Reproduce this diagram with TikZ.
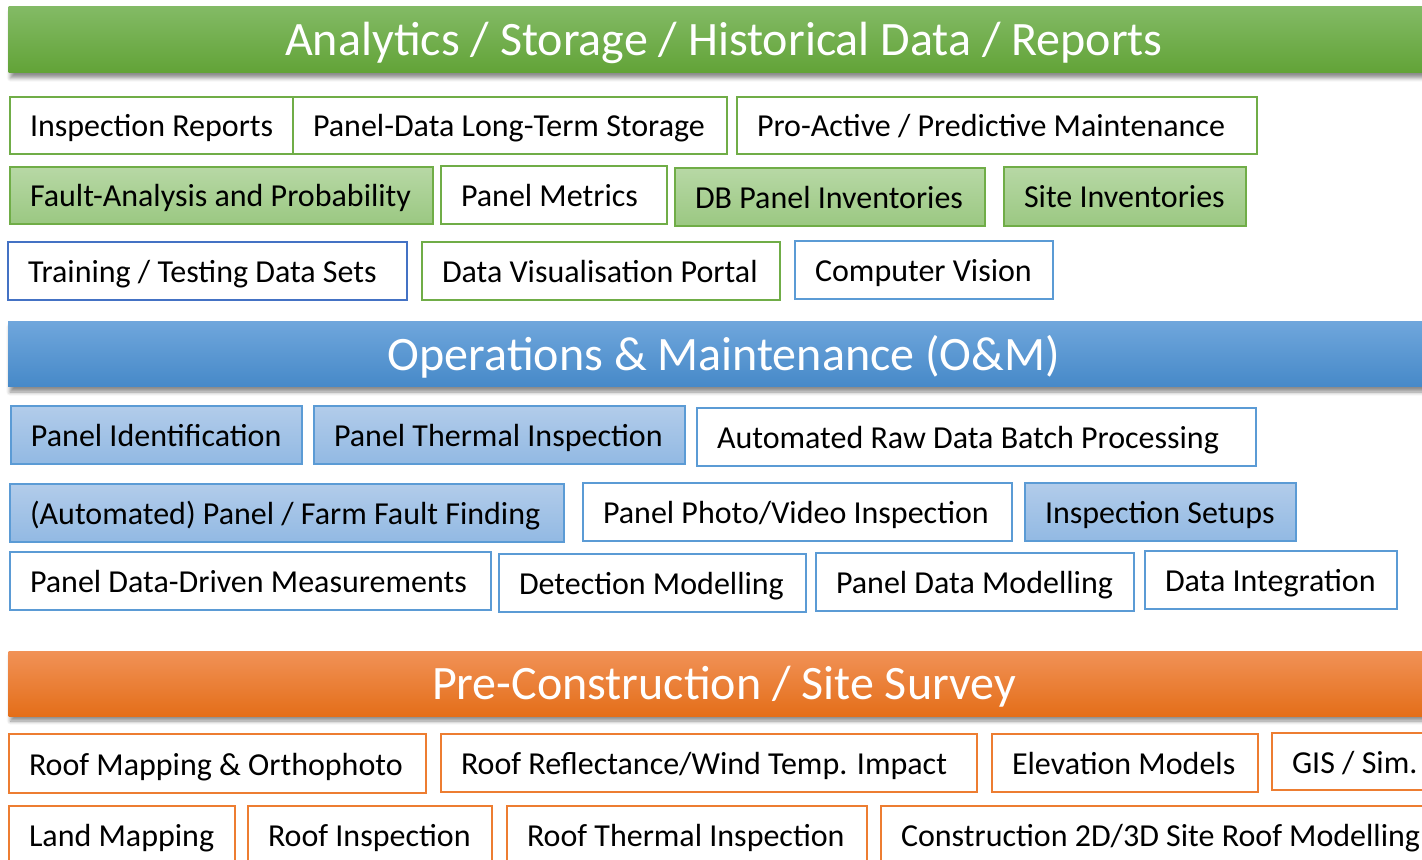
\documentclass[tikz,border=0pt]{standalone}
\usepackage{fontspec}
\setmainfont{Carlito}
\usetikzlibrary{shadows.blur}
\definecolor{gTop}{RGB}{131,186,101}
\definecolor{gMid}{RGB}{114,176,68}
\definecolor{gBot}{RGB}{98,163,55}
\definecolor{bTop}{RGB}{111,166,220}
\definecolor{bMid}{RGB}{91,155,213}
\definecolor{bBot}{RGB}{70,137,200}
\definecolor{oTop}{RGB}{241,146,87}
\definecolor{oMid}{RGB}{242,128,48}
\definecolor{oBot}{RGB}{228,110,25}
\definecolor{gfTop}{RGB}{183,216,165}
\definecolor{gfBot}{RGB}{155,200,130}
\definecolor{bfTop}{RGB}{178,204,234}
\definecolor{bfBot}{RGB}{146,185,227}
\definecolor{gLine}{RGB}{112,173,71}
\definecolor{bLine}{RGB}{91,155,213}
\definecolor{dbLine}{RGB}{68,114,196}
\definecolor{oLine}{RGB}{237,125,49}
\tikzset{
  banner/.style={rectangle, inner sep=0pt, text=white, font=\fontsize{24}{28}\selectfont,
    text height=18pt, text depth=2.4pt,
    blur shadow={shadow xshift=1pt, shadow yshift=-2.5pt, shadow blur steps=6, shadow opacity=45}},
  bxbase/.style={rectangle, line width=1pt, inner xsep=10pt, inner ysep=0pt,
    font=\fontsize{16}{19}\selectfont, text height=12.8pt, text depth=1.3pt},
  gbox/.style={bxbase, draw=gLine, fill=white},
  gfbox/.style={bxbase, draw=gLine, top color=gfTop, bottom color=gfBot},
  bbox/.style={bxbase, draw=bLine, fill=white},
  dbbox/.style={bxbase, draw=dbLine, fill=white},
  bfbox/.style={bxbase, draw=bLine, top color=bfTop, bottom color=bfBot},
  obox/.style={bxbase, draw=oLine, fill=white},
}
\newcommand\bx[7]{%
  \pgfmathsetmacro\bxw{(#5-#3)*0.5}%
  \pgfmathsetmacro\bxh{(#6-#4)*0.5}%
  \pgfmathsetmacro\bxt{(#5-#3-40)*0.5}%
  \node[#2, minimum width=\bxw pt, minimum height=\bxh pt] (#1) at ({(#3+#5)/2},{(#4+#6)/2}) {\makebox[\bxt pt][l]{#7}};}
\begin{document}
\begin{tikzpicture}[x=0.5pt, y=-0.5pt]
\useasboundingbox (0,0) rectangle (1422,860);
\clip (0,0) rectangle (1422,860);
% banners
\node[banner, minimum width=715.5pt, minimum height=33pt, top color=gTop, middle color=gMid, bottom color=gBot] (bannerA) at (724,40) {Analytics / Storage / Historical Data / Reports};
\node[banner, minimum width=716pt, minimum height=32.5pt, top color=bTop, middle color=bMid, bottom color=bBot] (bannerB) at (724,354.5) {Operations \& Maintenance (O\&M)};
\node[banner, minimum width=715.5pt, minimum height=32.5pt, top color=oTop, middle color=oMid, bottom color=oBot] (bannerC) at (724,683.5) {Pre-Construction / Site Survey};
% analytics rows
\bx{a1}{gbox}{10}{97}{293}{154}{Inspection Reports}
\bx{a2}{gbox}{293}{97}{727}{154}{Panel-Data Long-Term Storage}
\bx{a3}{gbox}{737}{97}{1257}{154}{Pro-Active / Predictive Maintenance}
\bx{a4}{gfbox}{10}{167}{433}{224}{Fault-Analysis and Probability}
\bx{a5}{gbox}{441}{166}{667}{224}{Panel Metrics}
\bx{a6}{gfbox}{675}{168}{985}{226}{DB Panel Inventories}
\bx{a7}{gfbox}{1004}{167}{1246}{226}{Site Inventories}
\bx{a8}{dbbox}{8}{242}{407}{300}{Training / Testing Data Sets}
\bx{a9}{gbox}{422}{242}{780}{300}{Data Visualisation Portal}
\bx{a10}{bbox}{795}{241}{1053}{299}{Computer Vision}
% O&M rows
\bx{m1}{bfbox}{11}{406}{302}{464}{Panel Identification}
\bx{m2}{bfbox}{314}{406}{685}{464}{Panel Thermal Inspection}
\bx{m3}{bbox}{697}{408}{1256}{466}{Automated Raw Data Batch Processing}
\bx{m4}{bfbox}{10}{484}{564}{542}{(Automated) Panel / Farm Fault Finding}
\bx{m5}{bbox}{583}{483}{1012}{541}{Panel Photo/Video Inspection}
\bx{m6}{bfbox}{1025}{483}{1296}{541}{Inspection Setups}
\bx{m7}{bbox}{10}{552}{491}{610}{Panel Data-Driven Measurements}
\bx{m8}{bbox}{499}{554}{806}{612}{Detection Modelling}
\bx{m9}{bbox}{816}{553}{1134}{611}{Panel Data Modelling}
\bx{m10}{bbox}{1145}{551}{1397}{609}{Data Integration}
% pre-construction rows
\bx{p1}{obox}{9}{734}{426}{793}{Roof Mapping \& Orthophoto}
\bx{p2}{obox}{441}{734}{977}{792}{Roof Reflectance/Wind Temp. Impact}
\bx{p3}{obox}{992}{734}{1258}{792}{Elevation Models}
\bx{p4}{obox}{1272}{733}{1500}{790}{GIS / Sim.}
\bx{p5}{obox}{9}{806}{235}{864}{Land Mapping}
\bx{p6}{obox}{248}{806}{492}{864}{Roof Inspection}
\bx{p7}{obox}{507}{806}{867}{864}{Roof Thermal Inspection}
\bx{p8}{obox}{881}{806}{1500}{864}{Construction 2D/3D Site Roof Modelling}
\end{tikzpicture}
\end{document}
